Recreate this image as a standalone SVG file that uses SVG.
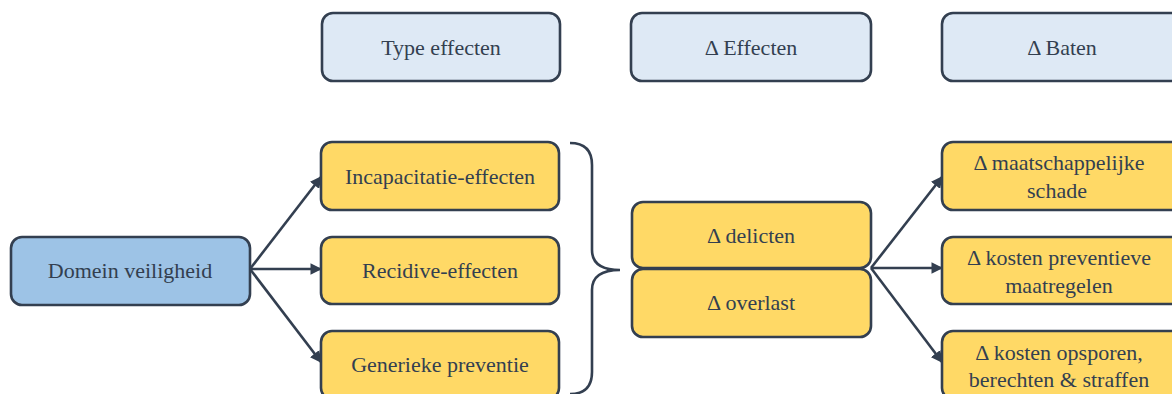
<svg xmlns="http://www.w3.org/2000/svg" width="1172" height="394" viewBox="0 0 1172 394">
<defs>
<style>
.box{stroke:#333f50;stroke-width:2.6}
.hdr{fill:#dee9f5}
.yel{fill:#ffd966}
.blu{fill:#9dc3e6}
.con{stroke:#333f50;stroke-width:2.6;fill:none}
</style>
<marker id="arr" viewBox="0 0 10 10" refX="9" refY="5" markerWidth="4.5" markerHeight="4.5" orient="auto" markerUnits="strokeWidth">
<path d="M0,0 L10,5 L0,10 z" fill="#333f50"/>
</marker>
</defs>
<rect width="1172" height="394" fill="#ffffff"/>
<g font-family="'Liberation Serif', 'DejaVu Serif', serif" font-size="22" fill="#333f50" text-anchor="middle">
<g id="hdr-type"><rect class="box hdr" x="322" y="13" width="238" height="68" rx="11"/><text x="441" y="55">Type effecten</text></g>
<g id="hdr-effecten"><rect class="box hdr" x="631" y="13" width="240" height="68" rx="11"/><text x="751" y="55">Δ Effecten</text></g>
<g id="hdr-baten"><rect class="box hdr" x="942" y="13" width="240" height="68" rx="11"/><text x="1062" y="55">Δ Baten</text></g>

<g id="domein"><rect class="box blu" x="11" y="237" width="239" height="68" rx="11"/><text x="130" y="278">Domein veiligheid</text></g>

<g id="incap"><rect class="box yel" x="321" y="142" width="238" height="68" rx="11"/><text x="440" y="184">Incapacitatie-effecten</text></g>
<g id="recidive"><rect class="box yel" x="321" y="237" width="238" height="67" rx="11"/><text x="440" y="278">Recidive-effecten</text></g>
<g id="generiek"><rect class="box yel" x="321" y="331" width="238" height="68" rx="11"/><text x="440" y="372">Generieke preventie</text></g>

<g id="delicten"><rect class="box yel" x="632" y="202" width="239" height="66" rx="11"/><text x="751" y="243">Δ delicten</text></g>
<g id="overlast"><rect class="box yel" x="632" y="269" width="239" height="68" rx="11"/><text x="751" y="310">Δ overlast</text></g>

<g id="schade"><rect class="box yel" x="942" y="142" width="240" height="68" rx="11"/><text x="1059" y="170">Δ maatschappelijke</text><text x="1057" y="198">schade</text></g>
<g id="preventief"><rect class="box yel" x="942" y="237" width="240" height="67" rx="11"/><text x="1059" y="265">Δ kosten preventieve</text><text x="1059" y="293">maatregelen</text></g>
<g id="opsporen"><rect class="box yel" x="942" y="331" width="240" height="68" rx="11"/><text x="1059" y="360">Δ kosten opsporen,</text><text x="1059" y="387">berechten &amp; straffen</text></g>
</g>
<g id="connectors">
<path class="con" d="M250,269 L321,177" marker-end="url(#arr)"/>
<path class="con" d="M250,269 L321,269" marker-end="url(#arr)"/>
<path class="con" d="M250,269 L321,362" marker-end="url(#arr)"/>
<path class="con" d="M871,268 L942,177" marker-end="url(#arr)"/>
<path class="con" d="M871,268 L942,268" marker-end="url(#arr)"/>
<path class="con" d="M871,268 L942,362" marker-end="url(#arr)"/>
<path class="con" d="M570,143 Q592,143 592,165 L592,250 Q592,270 620,270 Q592,270 592,290 L592,372 Q592,394 570,394"/>
</g>
</svg>
